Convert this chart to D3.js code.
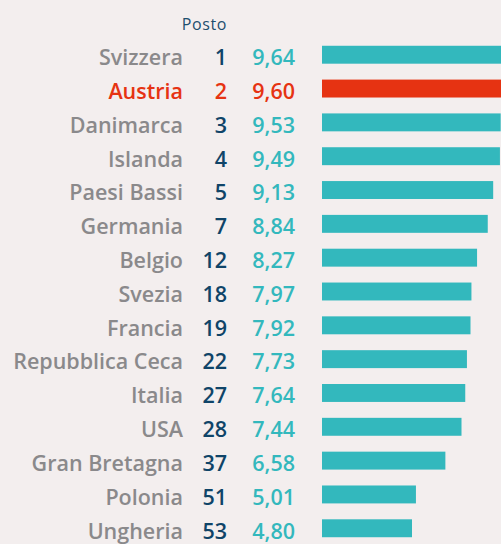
<!DOCTYPE html>
<html lang='it'>
<head>
  <meta charset='UTF-8'>
  <title>Classifica</title>
  <style>
    * { margin: 0; padding: 0; }
    body { background: #f3eeee; }
    #chart { width: 501px; height: 544px; }
  </style>
</head>
<body>
<script src='https://cdn.jsdelivr.net/npm/d3@7'></script>
<div id='chart'></div>
<script>
  const countries = ['Svizzera', 'Austria', 'Danimarca', 'Islanda', 'Paesi Bassi', 'Germania', 'Belgio', 'Svezia',
    'Francia', 'Repubblica Ceca', 'Italia', 'USA', 'Gran Bretagna', 'Polonia', 'Ungheria']
  const ranks = [1, 2, 3, 4, 5, 7, 12, 18, 19, 22, 27, 28, 37, 51, 53]
  const values = [9.64, 9.60, 9.53, 9.49, 9.13, 8.84, 8.27, 7.97, 7.92, 7.73, 7.64, 7.44, 6.58, 5.01, 4.80]
  const highlight = 'Austria'

  const width = 501
  const height = 544
  const font = '"Open Sans", sans-serif'

  let svg = d3.select('#chart')
  .append('svg')
  .attr('width', width)
  .attr('height', height)

  svg.append('rect')
  .attr('width', width)
  .attr('height', height)
  .style('fill', '#f3eeee')

  // 行位置
  let y = d3.scaleBand()
  .domain(countries)
  .range([39, 544])
  .paddingInner(0.47)
  .paddingOuter(0.2)

  let x = d3.scaleLinear()
  .domain([0, 10])
  .range([322, 322 + 187.5])

  const rows = countries.map((c, i) => ({ country: c, rank: ranks[i], value: values[i] }))
  const isHi = d => d.country === highlight

  svg.append('text')
  .attr('x', 227)
  .attr('y', 29.5)
  .attr('text-anchor', 'end')
  .style('font-family', font)
  .style('font-size', '16px')
  .style('letter-spacing', '0.6px')
  .style('fill', '#1d4f6e')
  .text('Posto')

  let row = svg.selectAll('.row')
  .data(rows)
  .enter()
  .append('g')
  .attr('class', 'row')
  .attr('transform', d => 'translate(0,' + (y(d.country) + y.bandwidth() / 2) + ')')

  row.append('rect')
  .attr('x', x(0))
  .attr('y', -y.bandwidth() / 2)
  .attr('width', d => x(d.value) - x(0))
  .attr('height', y.bandwidth())
  .style('fill', d => isHi(d) ? '#e63312' : '#33b8bd')

  const label = (sel, xPos, color, txt) => sel.append('text')
  .attr('x', xPos)
  .attr('y', 10.3)
  .attr('text-anchor', 'end')
  .style('font-family', font)
  .style('font-weight', 600)
  .style('font-size', '21.5px')
  .style('fill', color)
  .text(txt)

  label(row, 183, d => isHi(d) ? '#e63312' : '#8a898b', d => d.country)
  label(row, 227, d => isHi(d) ? '#e63312' : '#0f4468', d => d.rank)
  label(row, 295, d => isHi(d) ? '#e63312' : '#33b8bd', d => d.value.toFixed(2).replace('.', ','))
</script>
</body>
</html>
